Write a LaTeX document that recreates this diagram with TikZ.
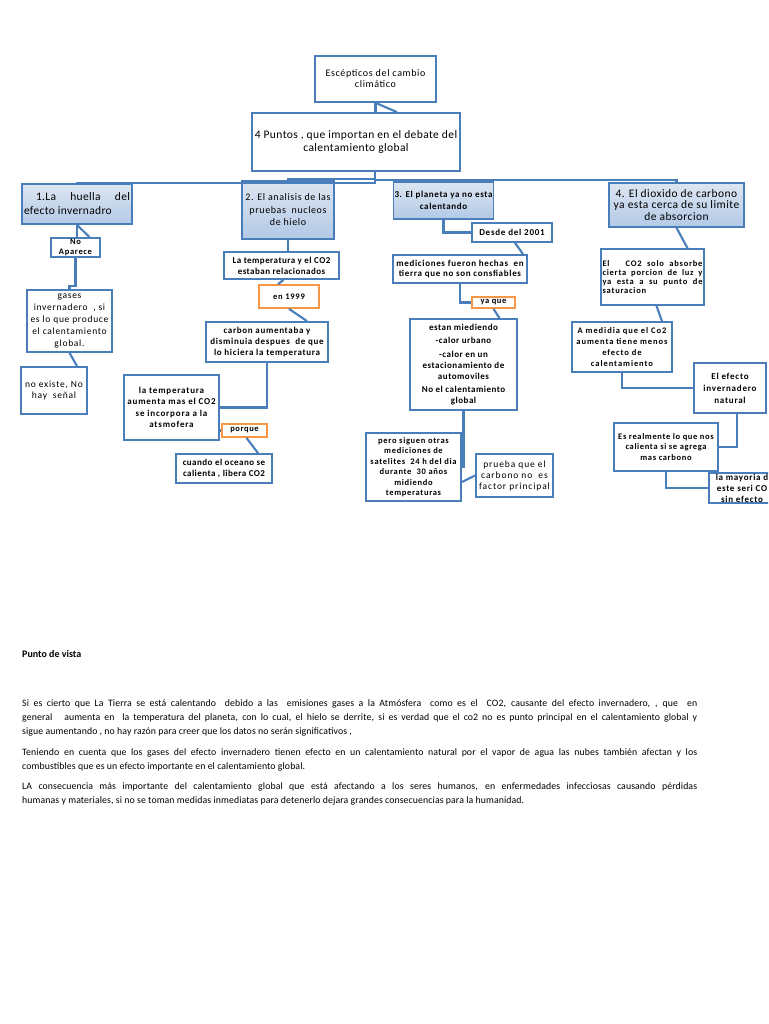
\documentclass[tikz,border=0pt]{standalone}
\usepackage{fontspec}
\setmainfont{Carlito}
\definecolor{bxblue}{HTML}{4A7EBB}
\definecolor{bxorange}{HTML}{F79646}
\definecolor{gradtop}{HTML}{DCE6F2}
\definecolor{gradbot}{HTML}{B3C9E6}
\newcommand{\fs}[2]{\fontsize{#1}{#2}\selectfont}
\newcommand{\fz}[3]{\fontsize{#1}{#2}\selectfont\addfontfeature{LetterSpace=#3}}
\newcommand{\mkbox}[7]{\node[#1, minimum width={#5-#3}, minimum height={#6-#4}] (#2) at ({(#3+#5)/2},{(#4+#6)/2}) {#7};}
\tikzset{
  basebox/.style={draw=bxblue, line width=1.7pt, fill=white, inner sep=1pt, align=center, text=black},
  plainbox/.style={basebox},
  gradbox/.style={basebox, top color=gradtop, bottom color=gradbot},
  orangebox/.style={basebox, draw=bxorange},
  linkline/.style={draw=bxblue, line width=2.1pt},
  para/.style={anchor=north west, inner sep=0pt, align=left, text=black, font=\fz{9.8}{14}{1}}
}
\begin{document}
\begin{tikzpicture}[x=1pt,y=-1pt]
\useasboundingbox (0,0) rectangle (768,1024);
\fill[white] (0,0) rectangle (768,1024);
\clip (0,0) rectangle (768,1024);

% ---- boxes ----
\mkbox{plainbox,font=\fz{10}{11}{6.5}}{esc}{315}{56}{436}{102}{Escépticos del cambio\\climático}
\mkbox{plainbox,font=\fz{11.5}{13}{3.5}}{pts}{252}{113}{460}{171}{4 Puntos , que importan en el debate del\\calentamiento global}
\mkbox{gradbox,align=left,font=\fz{11.5}{14}{3}}{b1}{22}{184}{132}{224}{\hspace*{12pt}\makebox[94pt][s]{1.La huella del}\\efecto invernadro}
\mkbox{gradbox,font=\fz{10}{12.5}{6}}{a2}{242}{181}{334}{239}{2. El analisis de las\\pruebas\ \ nucleos\\de hielo}
\mkbox{gradbox,font=\bfseries\fz{9}{12}{7}}{a3}{394}{182}{493}{219}{3. El planeta ya no esta\\calentando}
\mkbox{gradbox,font=\fz{11.5}{11.8}{4}}{a4}{609}{183}{744}{227}{4. El dioxido de carbono\\ya esta cerca de su limite\\de absorcion}

\mkbox{plainbox,font=\bfseries\fz{8.5}{10}{8}}{noap}{51}{238}{100}{257}{No\\Aparece}
\mkbox{plainbox,font=\fz{9.5}{11.8}{7.5}}{gases}{27}{290}{112}{352}{gases\\invernadero\ \ , si\\es lo que produce\\el calentamiento\\global.}
\mkbox{plainbox,font=\fz{9.5}{11.5}{8}}{noex}{21}{367}{87}{414}{no existe, No\\hay\ \ señal}

\mkbox{plainbox,font=\bfseries\fz{9}{11}{5}}{temp}{224}{252}{339}{279}{La temperatura y el CO2\\estaban relacionados}
\mkbox{orangebox,font=\bfseries\fz{8.5}{10}{8.5}}{e99}{259}{285}{319}{308}{en 1999}
\mkbox{plainbox,font=\bfseries\fz{9}{11}{7.5}}{carb}{206}{322}{328}{362}{carbon aumentaba y\\disminuia despues\ \ de que\\lo hiciera la temperatura}
\mkbox{plainbox,font=\bfseries\fz{9}{11.5}{9}}{latemp}{124}{375}{219}{440}{la temperatura\\aumenta mas el CO2\\se incorpora a la\\atsmofera}
\mkbox{orangebox,font=\bfseries\fz{8.5}{10}{7}, inner sep=0pt}{porq}{222}{424}{267}{437}{porque}
\mkbox{plainbox,font=\bfseries\fz{9}{11}{5}}{cuando}{176}{454}{272}{483}{cuando el oceano se\\calienta , libera CO2}

\mkbox{plainbox,font=\bfseries\fz{9}{10}{8.5}}{desde}{472}{223}{552}{242}{Desde del 2001}
\mkbox{plainbox,font=\bfseries\fz{9}{10.5}{7.5}}{medic}{393}{255}{527}{283}{mediciones fueron hechas\ \ en\\tierra que no son consfiables}
\mkbox{orangebox,font=\bfseries\fz{8.5}{10}{7}, inner sep=0pt}{yaque}{472}{297}{515}{308}{ya que}
\mkbox{plainbox,font=\bfseries\fz{9}{11}{5.5}}{estan}{410}{319}{517}{410}{estan miediendo\\[2.5pt]-calor urbano\\[2.5pt]-calor en un\\estacionamiento de\\automoviles\\[2.5pt]No el calentamiento\\global}
\mkbox{plainbox,font=\bfseries\fz{8.5}{10.5}{8}}{pero}{366}{433}{461}{501}{pero siguen otras\\mediciones de\\satelites\ \ 24 h del dia\\durante\ \ 30 años\\midiendo\\temperaturas}
\mkbox{plainbox,font=\fz{9.5}{11}{9.5}}{prueba}{476}{454}{553}{497}{prueba que el\\carbono no\ \ es\\factor principal}

\mkbox{plainbox,align=left,font=\bfseries\fz{8.5}{9.3}{9}}{co2s}{601}{249}{704}{305}{\makebox[100pt][s]{El\ \ \ CO2 solo absorbe}\\\makebox[100pt][s]{cierta porcion de luz y}\\\makebox[100pt][s]{ya esta a su punto de}\\saturacion}
\mkbox{plainbox,font=\bfseries\fz{8.5}{11}{11}}{amed}{572}{322}{672}{372}{A medidia que el Co2\\aumenta tiene menos\\efecto de\\calentamiento}
\mkbox{plainbox,font=\bfseries\fz{9}{12}{8.5}}{efnat}{694}{363}{766}{413}{El efecto\\invernadero\\natural}
\mkbox{plainbox,font=\bfseries\fz{8.5}{10.5}{7.5}}{esreal}{614}{423}{718}{471}{Es realmente lo que nos\\calienta si se agrega\\mas carbono}
\mkbox{plainbox,font=\bfseries\fz{9}{11}{8}}{mayor}{709}{473}{775}{503}{la mayoria d\\este seri CO\\sin efecto}

% ---- connectors ----
\draw[linkline] (esc.south) -- (esc.south |- pts.north);
\draw[linkline] (esc.south) -- ([xshift=41pt]pts.north);
\draw[linkline] ([xshift=19pt]pts.south) -- ++(0,11) -| (b1.north);
\draw[linkline] ([xshift=19pt]pts.south) -- ++(0,7) -| (a2.north);
\draw[linkline] ([xshift=19pt]pts.south) -- ++(0,8) -| (a3.north);
\draw[linkline] ([xshift=19pt]pts.south) -- ++(0,8) -| (a4.north);

\draw[linkline] (b1.south) -- (b1.south |- noap.north);
\draw[linkline] (b1.south) -- ([xshift=14pt]noap.north);
\draw[linkline] (noap.south) -- ++(0,28) -| (gases.north);
\draw[linkline] (gases.south) -- ([xshift=23pt]noex.north);

\draw[linkline] (a2.south) -- (a2.south |- temp.north);
\draw[linkline] ([xshift=2pt]temp.south) -- ([xshift=-11pt]e99.north);
\draw[linkline] (e99.south) -- ([xshift=40pt]carb.north);
\draw[linkline] (carb.south) |- (latemp.east);
\draw[linkline] (porq.west) -- (porq.west -| latemp.east);
\draw[linkline] ([xshift=2pt]porq.south) -- ([xshift=34pt]cuando.north);

\draw[linkline] (a3.south) |- (desde.west);
\draw[linkline] ([xshift=3pt]desde.south) -- ([xshift=63pt]medic.north);
\draw[linkline] (medic.south) |- (yaque.west);
\draw[linkline] (yaque.south) -- ([xshift=36pt]estan.north);
\draw[linkline] (estan.south) |- (pero.east);
\draw[linkline] ([yshift=-15pt]pero.east) -- (prueba.west);

\draw[linkline] (a4.south) -- ([xshift=35pt]co2s.north);
\draw[linkline] ([xshift=4pt]co2s.south) -- ([xshift=40pt]amed.north);
\draw[linkline] (amed.south) |- (efnat.west);
\draw[linkline] ([xshift=7pt]efnat.south) |- (esreal.east);
\draw[linkline] (esreal.south) |- (mayor.west);

% ---- text ----
\node[para,font=\bfseries\fs{10}{14}] (pv) at (22,650) {Punto de vista};
\node[para] (p1) at (22,699) {\makebox[675pt][s]{Si es cierto que La Tierra se está calentando\ \ debido a las\ \ emisiones gases a la Atmósfera\ \ como es el\ \ CO2, causante del efecto invernadero, , que\ \ en}\\\makebox[675pt][s]{general\ \ \ aumenta en\ \ la temperatura del planeta, con lo cual, el hielo se derrite, si es verdad que el co2 no es punto principal en el calentamiento global y}\\sigue aumentando , no hay razón para creer que los datos no serán significativos ,};
\node[para] (p2) at (22,748) {\makebox[675pt][s]{Teniendo en cuenta que los gases del efecto invernadero tienen efecto en un calentamiento natural por el vapor de agua las nubes también afectan y los}\\combustibles que es un efecto importante en el calentamiento global.};
\node[para] (p3) at (22,782) {\makebox[675pt][s]{LA consecuencia más importante del calentamiento global que está afectando a los seres humanos, en enfermedades infecciosas causando pérdidas}\\humanas y materiales, si no se toman medidas inmediatas para detenerlo dejara grandes consecuencias para la humanidad.};
\end{tikzpicture}
\end{document}
